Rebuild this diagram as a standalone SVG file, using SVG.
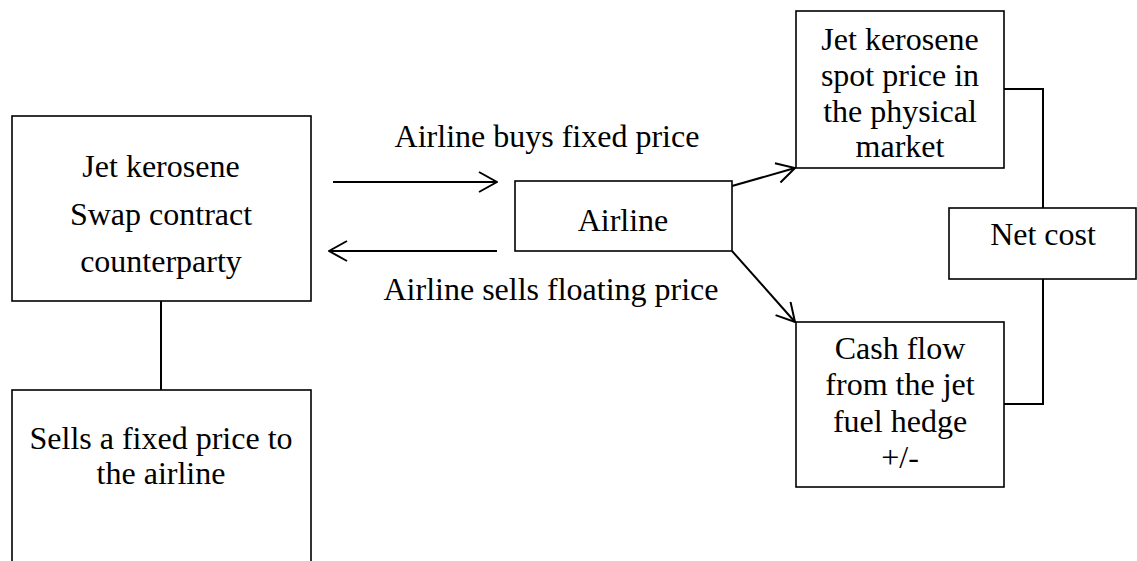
<svg xmlns="http://www.w3.org/2000/svg" width="1137" height="561" viewBox="0 0 1137 561">
  <style>
    .box { fill: #ffffff; stroke: #000000; stroke-width: 1.6; }
    .txt { font-family: "Liberation Serif", "Times New Roman", serif; font-size: 32px; fill: #000000; text-anchor: middle; }
    .line { fill: none; stroke: #000000; stroke-width: 2; }
    .arrow { fill: none; stroke: #000000; stroke-width: 2; marker-end: url(#open); }
  </style>
  <defs>
    <marker id="open" viewBox="0 0 20 22" refX="19" refY="11" markerWidth="20" markerHeight="22" markerUnits="userSpaceOnUse" orient="auto">
      <path d="M1,1 L19,11 L1,21" fill="none" stroke="#000000" stroke-width="2"/>
    </marker>
  </defs>
  <rect width="1137" height="561" fill="#ffffff"/>

  <!-- connectors -->
  <g id="connectors">
    <line class="line" x1="161" y1="301" x2="161" y2="390"/>
    <line class="arrow" x1="333" y1="182" x2="497" y2="182"/>
    <line class="arrow" x1="497" y1="251" x2="329" y2="251"/>
    <line class="arrow" x1="732" y1="186" x2="795" y2="168"/>
    <line class="arrow" x1="732" y1="251" x2="795" y2="322"/>
    <polyline class="line" points="1004,89 1043,89 1043,208"/>
    <polyline class="line" points="1043,279 1043,404 1004,404"/>
  </g>

  <g id="counterparty">
    <rect class="box" x="12" y="116" width="299" height="185"/>
    <text class="txt" x="161" y="177">Jet kerosene</text>
    <text class="txt" x="161" y="225">Swap contract</text>
    <text class="txt" x="161" y="272">counterparty</text>
  </g>

  <g id="sells-fixed">
    <rect class="box" x="12" y="390" width="299" height="200"/>
    <text class="txt" x="161" y="449">Sells a fixed price to</text>
    <text class="txt" x="161" y="484">the airline</text>
  </g>

  <g id="label-buys">
    <text class="txt" x="547" y="147">Airline buys fixed price</text>
  </g>
  <g id="label-sells">
    <text class="txt" x="551" y="300">Airline sells floating price</text>
  </g>

  <g id="airline">
    <rect class="box" x="515" y="181" width="217" height="70"/>
    <text class="txt" x="623" y="231">Airline</text>
  </g>

  <g id="spot-price">
    <rect class="box" x="796" y="11" width="208" height="157"/>
    <text class="txt" x="900" y="50">Jet kerosene</text>
    <text class="txt" x="900" y="86">spot price in</text>
    <text class="txt" x="900" y="122">the physical</text>
    <text class="txt" x="900" y="157">market</text>
  </g>

  <g id="net-cost">
    <rect class="box" x="949" y="208" width="187" height="71"/>
    <text class="txt" x="1043" y="245">Net cost</text>
  </g>

  <g id="hedge-cash-flow">
    <rect class="box" x="796" y="322" width="208" height="165"/>
    <text class="txt" x="900" y="359">Cash flow</text>
    <text class="txt" x="900" y="395">from the jet</text>
    <text class="txt" x="900" y="432">fuel hedge</text>
    <text class="txt" x="900" y="468">+/-</text>
  </g>
</svg>
